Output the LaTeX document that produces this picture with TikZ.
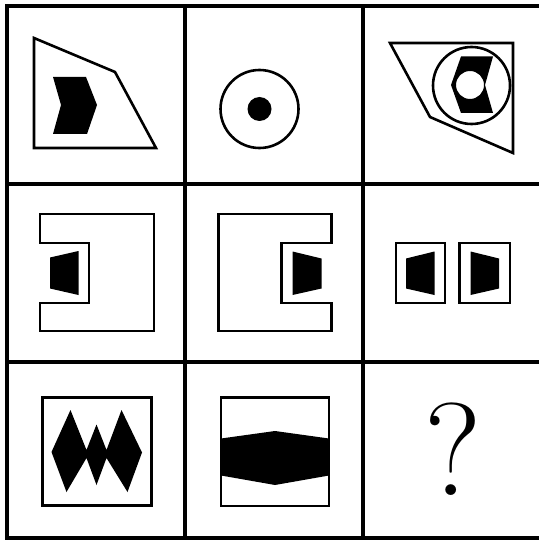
\documentclass[tikz,border=0pt]{standalone}
\usetikzlibrary{positioning}
\tikzset{
  grid/.style={line width=3.2pt,line cap=rect},
  outline/.style={draw,line width=2.6pt,line join=miter},
  solid/.style={fill=black},
}

\begin{document}
\begin{tikzpicture}[x=1pt,y=-1pt]
  \useasboundingbox (0,0) rectangle (538,540);

  % grid
  \foreach \y in {6,184,362,538}{
    \draw[grid] (7,\y) -- (538,\y);}
  \foreach \x in {7,185,363}{
    \draw[grid] (\x,6) -- (\x,538);}

  % row 1
  \draw[outline] (34,38) -- (115,72) -- (156,148) -- (34,148) -- cycle;
  \fill[solid] (53,77) -- (86,77) -- (97,105) -- (87,134) -- (53,134) -- (61,105) -- cycle;

  \draw[outline] (259.5,109) circle (39);
  \fill[solid] (259.5,109) circle (12);

  \draw[outline] (390,43) -- (513,43) -- (513,153) -- (430,117) -- cycle;
  \draw[outline] (471.5,85.5) circle (38.5);
  \fill[solid,even odd rule] (461,56.5) -- (493,56.5) -- (485,85) -- (493,113) -- (461,113) -- (451,85) -- cycle
    (470,85) circle (14);

  % row 2
  \draw[outline] (40,214) -- (154,214) -- (154,331) -- (40,331) -- (40,303) -- (89,303)
    -- (89,243) -- (40,243) -- cycle;
  \fill[solid] (50,257.5) -- (78.5,251) -- (78.5,295) -- (50,288.5) -- cycle;

  \draw[outline] (218.5,214) -- (331.5,214) -- (331.5,243) -- (281.5,243) -- (281.5,303)
    -- (331.5,303) -- (331.5,331) -- (218.5,331) -- cycle;
  \fill[solid] (292.5,251.5) -- (321.5,258.5) -- (321.5,288.5) -- (292.5,295) -- cycle;

  \foreach \xa/\xb in {396/445,459.5/510}{
    \draw[outline] (\xa,243) rectangle (\xb,303);}
  \fill[solid] (406,258.5) -- (434.5,251.5) -- (434.5,295) -- (406,288.5) -- cycle;
  \fill[solid] (470.5,251.5) -- (499,258.5) -- (499,288.5) -- (470.5,295) -- cycle;

  % row 3
  \draw[outline] (42.5,397.5) rectangle (151.5,505.5);
  \fill[solid] (51.5,452) -- (70.5,410) -- (86.5,450) -- (96.5,424.5) -- (106.5,450)
    -- (121.5,410) -- (142,452.5) -- (127.5,492) -- (106.5,458) -- (96.5,485)
    -- (86.5,458) -- (66.5,492) -- cycle;

  \draw[outline] (221,397.5) rectangle (329,506);
  \fill[solid] (221,438.5) -- (275,431) -- (329,438.5) -- (329,475.5) -- (275,485)
    -- (221,475.5) -- cycle;

  \node[inner sep=0pt,anchor=base,font=\fontsize{132}{132}\selectfont] (q) at (453,495.5) {?};
\end{tikzpicture}
\end{document}
